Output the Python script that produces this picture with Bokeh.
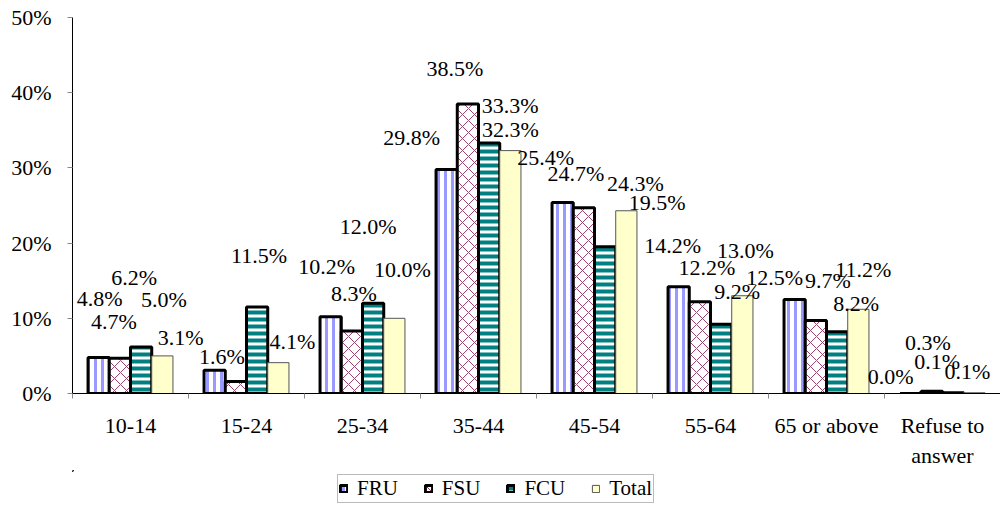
import numpy as np
from bokeh.plotting import figure
from bokeh.layouts import column
from bokeh.models import (ColumnDataSource, FixedTicker, CustomJSTickFormatter,
                          PrintfTickFormatter, Legend, LegendItem, Range1d)
from bokeh.transform import dodge
from bokeh.core.properties import value
from bokeh.embed import file_html
from bokeh.resources import INLINE

# ---------------- data ----------------
categories = ["10-14", "15-24", "25-34", "35-44", "45-54", "55-64",
              "65 or above", "Refuse to\nanswer"]
series_names = ["FRU", "FSU", "FCU", "Total"]
fru = [4.8, 3.1, 10.2, 29.8, 25.4, 14.2, 12.5, 0.0]
fsu = [4.7, 1.6, 8.3, 38.5, 24.7, 12.2, 9.7, 0.3]
fcu = [6.2, 11.5, 12.0, 33.3, 19.5, 9.2, 8.2, 0.1]
total = [5.0, 4.1, 10.0, 32.3, 24.3, 13.0, 11.2, 0.1]
y_ticks = [0, 10, 20, 30, 40, 50]

# data-label displacement (screen px) as placed in the original chart
fru_dx = [1, -34, -4, -35, -17, -6, -20, -20]
fru_dy = [-59, -33, -50, -32, -45, -41, -22, -17]
fsu_dx = [-6, -14, 2, -13, -8, 7, 12, -4]
fsu_dy = [-37, -25, -38, -35, -34, -34, -40, -49]
fcu_dx = [-7, 2, -5, 21, 52, 16, 19, -16]
fcu_dy = [-69, -52, -77, -38, -44, -33, -28, -31]
tot_dx = [1.5, 14, 8, 0, 9, 3, 5, -7]
tot_dy = [-56, -21, -49, -21, -27, -45, -40, -21]

# ---------------- build ----------------
n = len(categories)
centers = [i + 0.5 for i in range(n)]
boundaries = list(range(n + 1))

series = [
    dict(key="fru", name="FRU", vals=fru, dx=fru_dx, dy=fru_dy,
         style=dict(fill_color="white", hatch_pattern="vertical_line", hatch_color="#9999ff",
                    hatch_scale=7, hatch_weight=3, line_color="black", line_width=3)),
    dict(key="fsu", name="FSU", vals=fsu, dx=fsu_dx, dy=fsu_dy,
         style=dict(fill_color="white", hatch_pattern="diagonal_cross", hatch_color="#a04070",
                    hatch_scale=12, hatch_weight=1, line_color="black", line_width=3)),
    dict(key="fcu", name="FCU", vals=fcu, dx=fcu_dx, dy=fcu_dy,
         style=dict(fill_color="white", hatch_pattern="horizontal_line", hatch_color="#008080",
                    hatch_scale=7, hatch_weight=4, line_color="black", line_width=3)),
    dict(key="tot", name="Total", vals=total, dx=tot_dx, dy=tot_dy,
         style=dict(fill_color="#ffffcc", line_color="#555555", line_width=1)),
]

data = dict(x=centers)
for s in series:
    data[s["key"]] = s["vals"]
    data[s["key"] + "_lbl"] = ["%.1f%%" % v for v in s["vals"]]
    data[s["key"] + "_dx"] = s["dx"]
    data[s["key"] + "_dy"] = s["dy"]
src = ColumnDataSource(data)

FONT = "'Liberation Serif', 'Times New Roman', serif"

W = 1000
p = figure(width=W, height=470,
           x_range=Range1d(0, n), y_range=Range1d(0, 50),
           output_backend="svg", toolbar_location=None,
           min_border_left=72, min_border_right=0, min_border_top=17, min_border_bottom=76)
p.xgrid.visible = False
p.ygrid.visible = False
p.outline_line_color = None
p.background_fill_color = "white"

bw = 0.183
offsets = [-1.5 * bw, -0.5 * bw, 0.5 * bw, 1.5 * bw]

for s, off in zip(series, offsets):
    p.vbar(x=dodge("x", off, range=p.x_range), top=s["key"], width=bw,
           source=src, **s["style"])

for s, off in zip(series, offsets):
    p.text(x=dodge("x", off, range=p.x_range), y=s["key"], text=s["key"] + "_lbl",
           x_offset=s["key"] + "_dx", y_offset=s["key"] + "_dy", source=src,
           text_font=value(FONT), text_font_size="22px", text_color="black",
           text_align="center", text_baseline="middle")

# x axis: labels at category centres, ticks at category boundaries
xa = p.xaxis[0]
xa.ticker = FixedTicker(ticks=centers, minor_ticks=boundaries)
xa.formatter = CustomJSTickFormatter(args=dict(labels=categories),
                                     code="return labels[Math.floor(tick)];")
xa.major_tick_out = 0
xa.major_tick_in = 0
xa.minor_tick_out = 5
xa.minor_tick_in = 0
xa.minor_tick_line_color = "#888888"
xa.axis_line_color = "black"
xa.major_label_text_font = FONT
xa.major_label_text_font_size = "22px"
xa.major_label_text_color = "black"
xa.major_label_standoff = 14

ya = p.yaxis[0]
ya.ticker = FixedTicker(ticks=y_ticks)
ya.formatter = PrintfTickFormatter(format="%d%%")
ya.major_tick_out = 5
ya.major_tick_in = 0
ya.minor_tick_out = 0
ya.minor_tick_in = 0
ya.major_tick_line_color = "#888888"
ya.axis_line_color = "black"
ya.major_label_text_font = FONT
ya.major_label_text_font_size = "22px"
ya.major_label_text_color = "black"
ya.major_label_standoff = 16

# ---------------- legend strip ----------------
lg = figure(width=W, height=38, x_range=Range1d(0, 1), y_range=Range1d(0, 1),
            output_backend="svg", toolbar_location=None,
            x_axis_location=None, y_axis_location=None,
            min_border_left=0, min_border_right=0, min_border_top=0, min_border_bottom=0)
lg.xgrid.visible = False
lg.ygrid.visible = False
lg.outline_line_color = None

items = []
for s in series:
    # swatch-only renderer: its single bar lies well outside the strip's visible range
    r = lg.vbar(x=[-5], bottom=[4], top=[5], width=0.1, **s["style"])
    items.append(LegendItem(label=s["name"], renderers=[r]))

legend = Legend(items=items, orientation="horizontal", location=(265, 5),
                glyph_width=9, glyph_height=9, label_standoff=9, spacing=26,
                padding=1, margin=0, border_line_color="#777777", border_line_width=1,
                label_text_font=FONT, label_text_font_size="21px", label_text_color="black")
lg.add_layout(legend, "center")

layout = column(p, lg, spacing=0)
open("out.html", "w").write(file_html(layout, INLINE))
